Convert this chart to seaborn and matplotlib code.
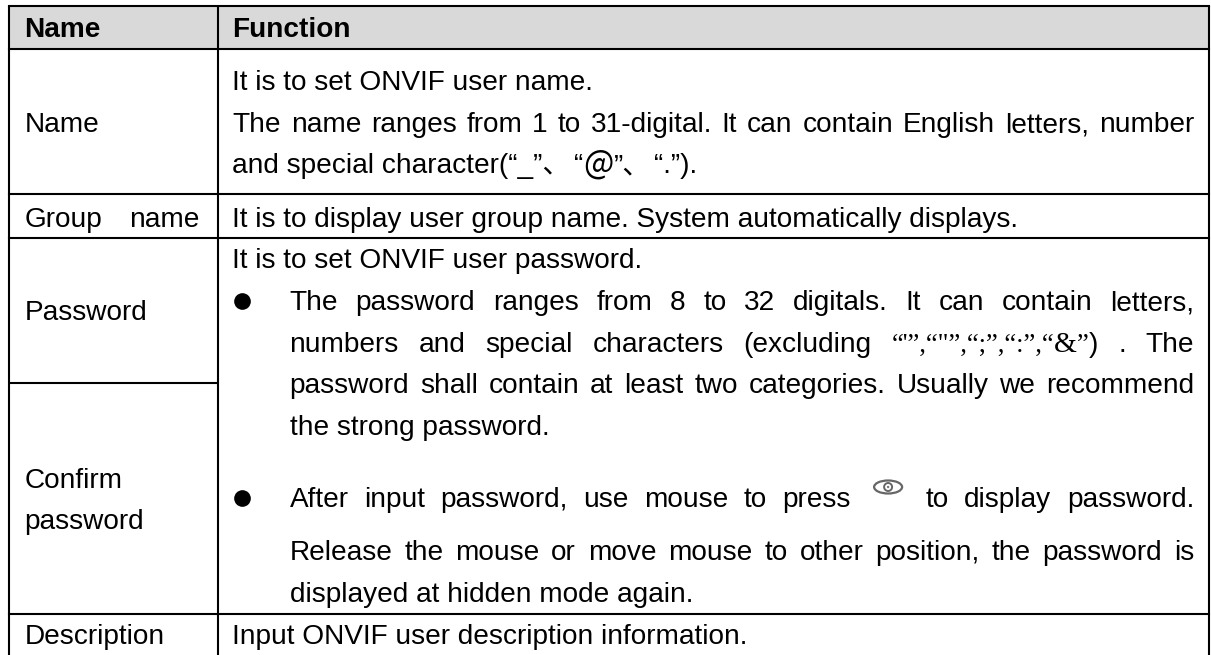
import matplotlib
matplotlib.use("Agg")
import matplotlib.pyplot as plt
from matplotlib.patches import Ellipse, Circle
import seaborn as sns

HEADERS = ["Name", "Function"]
LEFT_LABELS = ["Name", "Group name", "Password", "Confirm", "password", "Description"]
FUNC_NAME = [
    "It is to set ONVIF user name.",
    "The name ranges from 1 to 31-digital. It can contain English letters, number",
]
FUNC_GROUP = "It is to display user group name. System automatically displays."
FUNC_PW_INTRO = "It is to set ONVIF user password."
FUNC_PW_B1 = [
    "The password ranges from 8 to 32 digitals. It can contain letters,",
    "numbers and special characters (excluding",
    "password shall contain at least two categories. Usually we recommend",
    "the strong password.",
]
FUNC_PW_B2 = [
    "After input password, use mouse to press",
    "to display password.",
    "Release the mouse or move mouse to other position, the password is",
    "displayed at hidden mode again.",
]
FUNC_DESC = "Input ONVIF user description information."

sns.set_theme(style="white")
SANS = "Liberation Sans"
CJK = "Noto Sans CJK SC"
SERIF = "Liberation Serif"
FS = 20.15
BLACK = "#000000"

fig = plt.figure(figsize=(12.11, 6.55), dpi=100, facecolor="white")
ax = fig.add_axes([0, 0, 1, 1])
ax.set_xlim(0, 1211)
ax.set_ylim(655, 0)
ax.axis("off")
sns.despine(ax=ax, left=True, bottom=True)

XL, XS, XR = 8.5, 218, 1209
ax.axhspan(6, 48.5, xmin=XL / 1211, xmax=XR / 1211, color="#d9d9d9", lw=0, zorder=0)
LW = 1.5
for y in (6, 48.5, 194, 238, 614):
    ax.plot([XL, XR], [y, y], color=BLACK, lw=LW, solid_capstyle="projecting")
ax.plot([XL, XS], [383, 383], color=BLACK, lw=LW)
for x in (XL, XS, XR):
    ax.plot([x, x], [6, 655], color=BLACK, lw=LW)

renderer = fig.canvas.get_renderer()


def width(s, **kw):
    t = ax.text(0, 0, s, fontsize=kw.get("size", FS), family=kw.get("family", SANS),
                weight=kw.get("weight", "normal"))
    bb = t.get_window_extent(renderer)
    t.remove()
    return bb.width


def put(x, y, s, **kw):
    ax.text(x, y, s, fontsize=kw.get("size", FS), family=kw.get("family", SANS),
            weight=kw.get("weight", "normal"), color=BLACK, va="baseline", ha="left")
    return width(s, **kw)


def justify(line, x0, x1, y):
    """Each word is a string, a list of (text, font options) runs, or a number for a blank gap."""
    words = [w if not isinstance(w, str) else [(w, {})] for w in line]
    ws = []
    for w in words:
        if isinstance(w, (int, float)):
            ws.append(w)
        else:
            ws.append(sum(width(r, **k) for r, k in w))
    gap = (x1 - x0 - sum(ws)) / (len(words) - 1)
    x = x0
    starts = []
    for w, wd in zip(words, ws):
        starts.append(x)
        if not isinstance(w, (int, float)):
            cx = x
            for r, k in w:
                cx += put(cx, y, r, **k)
        x += wd + gap
    return starts


# left column
put(24.5, 37, HEADERS[0], weight="bold")
put(24.5, 132, LEFT_LABELS[0])
g, n = LEFT_LABELS[1].split()
justify([g, n], 24.5, 199, 227)
put(24.5, 320, LEFT_LABELS[2])
put(24.5, 488, LEFT_LABELS[3])
put(24.5, 529, LEFT_LABELS[4])
put(24.5, 644, LEFT_LABELS[5])

# right column
TX, TI, TR = 232.5, 289.5, 1194
put(TX, 37, HEADERS[1], weight="bold")
put(TX, 90, FUNC_NAME[0])
justify(FUNC_NAME[1].split(), TX, TR, 132)

x = TX
x += put(x, 173, "and special character(“_”、", family=[SANS, CJK])
x += 3
x += put(x, 173, "“")
x += put(x, 174, "@", family=CJK, size=FS * 1.15)
x += put(x, 173, "”、", family=[SANS, CJK])
x += 3
put(x, 173, "“.”).")

put(TX, 227, FUNC_GROUP)
put(TX, 268, FUNC_PW_INTRO)


def bullet(y):
    ax.plot([242], [y], "o", ms=12, color=BLACK, mew=0)


bullet(301)
justify(FUNC_PW_B1[0].split(), TI, TR, 310)
serif = dict(family=SERIF, size=FS * 0.95)
excl = [("“'”,“\"”,“;”,“:”,“", serif), ("&", dict(family=SERIF, size=FS * 1.05)), ("”", serif), (")", {})]
justify(FUNC_PW_B1[1].split() + [excl, ".", "The"], TI, TR, 352)
justify(FUNC_PW_B1[2].split(), TI, TR, 393)
put(TI, 435, FUNC_PW_B1[3])

bullet(498)
starts = justify(FUNC_PW_B2[0].split() + [44] + FUNC_PW_B2[1].split(), TI, TR, 507)
ex, ey = starts[len(FUNC_PW_B2[0].split())] + 22, 487
ax.add_patch(Ellipse((ex, ey), 28, 13, fc="white", ec="#666666", lw=1.6))
ax.add_patch(Circle((ex, ey), 4, fc="white", ec="#666666", lw=1.4))
ax.add_patch(Circle((ex, ey), 1.2, fc="#777777", ec="none"))

justify(FUNC_PW_B2[2].split(), TI, TR, 560)
put(TI, 602, FUNC_PW_B2[3])
put(TX, 644, FUNC_DESC)

fig.savefig("out.png", dpi=100, facecolor="white")
